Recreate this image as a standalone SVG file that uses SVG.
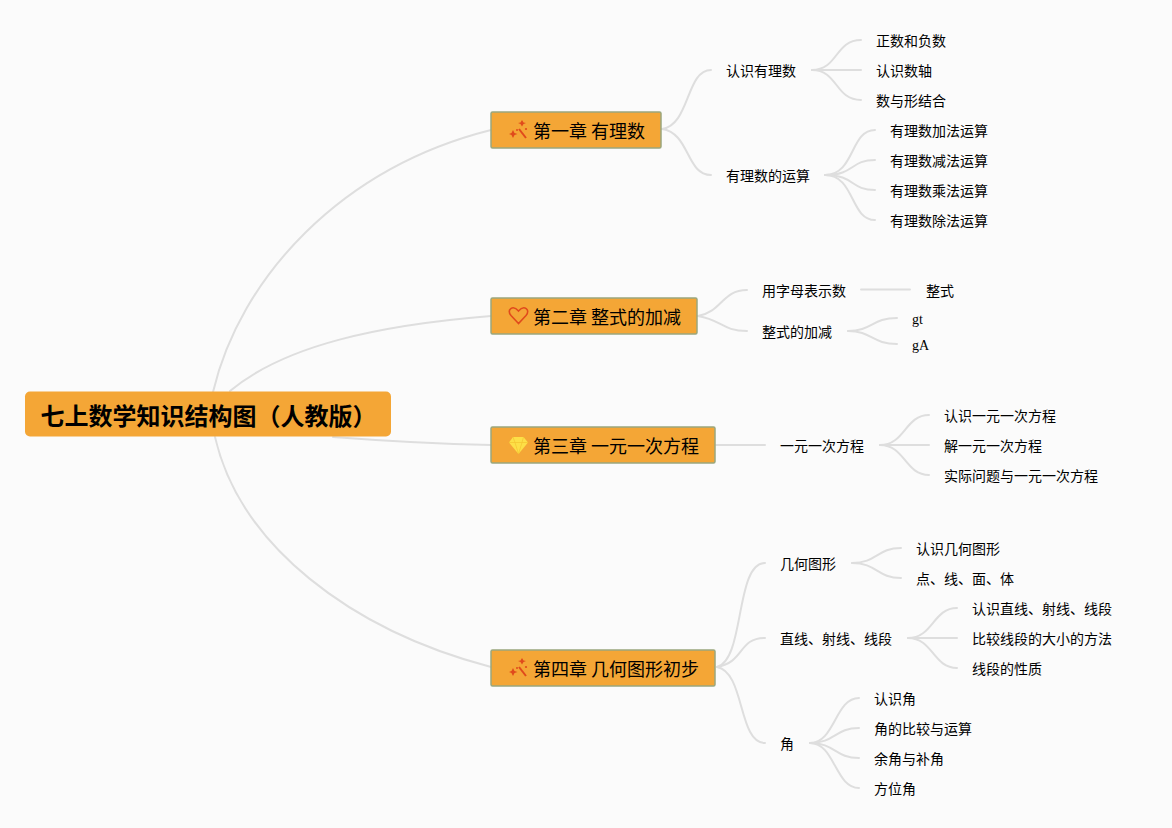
<svg xmlns="http://www.w3.org/2000/svg" width="1172" height="828" viewBox="0 0 1172 828">
<style>
text{font-family:"Noto Sans CJK SC","Liberation Sans",sans-serif;fill:#000}
.t{font-size:14px}
.c{font-size:18px}
.r{font-size:24px;font-weight:700}
.s{font-family:"Liberation Serif","Noto Sans CJK SC",serif;font-size:14px}
.box{fill:#f4a636;stroke:#9aa77d;stroke-width:1.5}
#connectors path{fill:none;stroke:#dedede;stroke-width:2;stroke-linecap:round}
</style>
<defs>
<g id="wand"><path d="M0-1L7 8" fill="none" stroke="#e04a1c" stroke-width="2"/><path d="M3-10L4.500-7.500L7-7L4.500-6L3-3.500L1.500-6L-1-7L1.500-7.500Z" fill="#e04a1c"/><path d="M-6 0L-4.500 3L-1.500 4L-4.500 5L-6 8L-7.500 5L-10 4L-7.500 3Z" fill="#e04a1c"/><circle cx="7" cy="-1" r="1.100" fill="#e04a1c"/><circle cx="-2" cy="0" r="1" fill="#e04a1c"/></g>
</defs>
<rect width="1172" height="828" fill="#fbfbfb"/>
<g id="connectors">
<path d="M213 392C240 278 340 168 491 130"/>
<path d="M230 391C285 345 380 325 491 316"/>
<path d="M333 437C385 441 440 444 491 445"/>
<path d="M215 437C240 545 350 630 491 667"/>
<path d="M662 129C690 125 686 70 711 70"/>
<path d="M662 129C690 133 686 175 711 175"/>
<path d="M812 70C838 70 835 40 861 40"/>
<path d="M812 70H861"/>
<path d="M812 70C838 70 835 100 861 100"/>
<path d="M825 175C855 175 850 130 875 130"/>
<path d="M825 175C855 175 850 160 875 160"/>
<path d="M825 175C855 175 850 190 875 190"/>
<path d="M825 175C855 175 850 220 875 220"/>
<path d="M698 316C722 312 722 290 747 290"/>
<path d="M698 316C722 320 722 331 747 331"/>
<path d="M861 289.500H910"/>
<path d="M848 331C872 331 872 318 897 318"/>
<path d="M848 331C872 331 872 344 897 344"/>
<path d="M716 445H765"/>
<path d="M880 445C905 445 905 415 929 415"/>
<path d="M880 445H929"/>
<path d="M880 445C905 445 905 475 929 475"/>
<path d="M717 667C745 660 735 563 765 563"/>
<path d="M717 667C745 662 738 638 765 638"/>
<path d="M717 667C745 672 738 743 765 743"/>
<path d="M852 563C877 563 877 548 901 548"/>
<path d="M852 563C877 563 877 578 901 578"/>
<path d="M908 638C933 638 933 608 957 608"/>
<path d="M908 638H957"/>
<path d="M908 638C933 638 933 668 957 668"/>
<path d="M810 743C835 743 835 698 859 698"/>
<path d="M810 743C835 743 835 728 859 728"/>
<path d="M810 743C835 743 835 758 859 758"/>
<path d="M810 743C835 743 835 788 859 788"/>
</g>
<g id="root"><rect x="25" y="391.500" width="366" height="45" rx="5" fill="#f4a636"/><text class="r" x="40.500" y="425">七上数学知识结构图（人教版）</text></g>
<g id="ch1"><rect class="box" x="491" y="112" width="170" height="36" rx="1.500"/><use href="#wand" x="519" y="130"/><text class="c" x="533" y="138">第一章 有理数</text></g>
<g id="ch2"><rect class="box" x="491" y="298" width="206" height="36" rx="1.500"/><path d="M518.500 323.500L511 315.500C506 309.500 513 304.500 518.500 311C524 304.500 531 309.500 526 315.500Z" fill="none" stroke="#e04a1c" stroke-width="1.600"/><text class="c" x="533" y="324">第二章 整式的加减</text></g>
<g id="ch3"><rect class="box" x="491" y="427" width="224" height="36" rx="1.500"/><path d="M513 437H523.500L528 442.500L518.500 454L509 442.500Z" fill="#fde047"/><path d="M509 442.500H528M513 437L515 442.500L518.500 454L522 442.500L523.500 437" fill="none" stroke="#f4c430" stroke-width=".7"/><text class="c" x="533" y="453">第三章 一元一次方程</text></g>
<g id="ch4"><rect class="box" x="491" y="650" width="224" height="36" rx="1.500"/><use href="#wand" x="519" y="668"/><text class="c" x="533" y="676">第四章 几何图形初步</text></g>
<g id="n1"><text class="t" x="726" y="76">认识有理数</text></g>
<g id="n2"><text class="t" x="726" y="181">有理数的运算</text></g>
<g id="n3"><text class="t" x="876" y="46">正数和负数</text></g>
<g id="n4"><text class="t" x="876" y="76">认识数轴</text></g>
<g id="n5"><text class="t" x="876" y="106">数与形结合</text></g>
<g id="n6"><text class="t" x="890" y="136">有理数加法运算</text></g>
<g id="n7"><text class="t" x="890" y="166">有理数减法运算</text></g>
<g id="n8"><text class="t" x="890" y="196">有理数乘法运算</text></g>
<g id="n9"><text class="t" x="890" y="226">有理数除法运算</text></g>
<g id="n10"><text class="t" x="762" y="296">用字母表示数</text></g>
<g id="n11"><text class="t" x="926" y="296">整式</text></g>
<g id="n12"><text class="t" x="762" y="337">整式的加减</text></g>
<g id="n13"><text class="s" x="912" y="324">gt</text></g>
<g id="n14"><text class="s" x="912" y="350">gA</text></g>
<g id="n15"><text class="t" x="780" y="451">一元一次方程</text></g>
<g id="n16"><text class="t" x="944" y="421">认识一元一次方程</text></g>
<g id="n17"><text class="t" x="944" y="451">解一元一次方程</text></g>
<g id="n18"><text class="t" x="944" y="481">实际问题与一元一次方程</text></g>
<g id="n19"><text class="t" x="780" y="569">几何图形</text></g>
<g id="n20"><text class="t" x="916" y="554">认识几何图形</text></g>
<g id="n21"><text class="t" x="916" y="584">点、线、面、体</text></g>
<g id="n22"><text class="t" x="780" y="644">直线、射线、线段</text></g>
<g id="n23"><text class="t" x="972" y="614">认识直线、射线、线段</text></g>
<g id="n24"><text class="t" x="972" y="644">比较线段的大小的方法</text></g>
<g id="n25"><text class="t" x="972" y="674">线段的性质</text></g>
<g id="n26"><text class="t" x="780" y="749">角</text></g>
<g id="n27"><text class="t" x="874" y="704">认识角</text></g>
<g id="n28"><text class="t" x="874" y="734">角的比较与运算</text></g>
<g id="n29"><text class="t" x="874" y="764">余角与补角</text></g>
<g id="n30"><text class="t" x="874" y="794">方位角</text></g>
</svg>
